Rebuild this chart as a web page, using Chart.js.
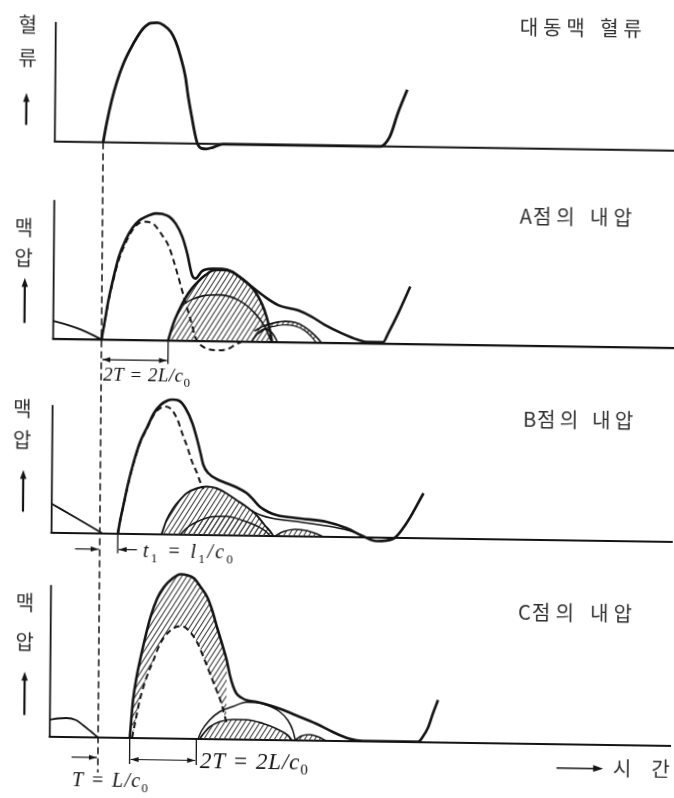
<!DOCTYPE html>
<html lang="ko">
<head>
<meta charset="utf-8">
<title>대동맥 혈류와 각 점의 내압</title>
<script src="https://cdn.jsdelivr.net/npm/chart.js@4.4.1/dist/chart.umd.min.js"></script>
<style>
  html, body { margin: 0; padding: 0; background: #fff; overflow: hidden; }
  #sheet {
    position: absolute; left: 0; top: 0; width: 674px; height: 798px;
    transform-origin: 0 0;
    /* the printed page sits slightly askew */
    transform: matrix(1, 0.0147, -0.0085, 1, 3.39, -4.95);
  }
  canvas { display: block; }
</style>
</head>
<body>
<div id="sheet"><canvas id="chart" width="674" height="798"></canvas></div>
<script>
// ---- time axis: ms after the start of ejection at the aortic root ----
// ---- values: arbitrary units above each trace's own zero line ----

// aortic flow
const flowAorta = [[0,0],[10,19],[25,42.5],[40,61],[59,79],[80,94],[100,106],[119,115],[140,120],[160,120.5],[179,118],[200,111.5],[215,102],[230,87],[245,67],[254,47],[265,27],[275,10],[283,0],[295,-4.5],[310,-5],[329,-3.5],[359,0],[830,0],[860,10],[884,34],[911,57]];

// pressure at A
const prevA = [[-145,18],[-100,14],[-60,9.5],[-20,3.5],[0,0]];
const pressA = [[0,0],[10,19.5],[20,39.5],[35,63],[50,83],[70,100],[90,112],[110,119.5],[130,123.5],[160,127],[180,126.5],[200,124],[220,117],[240,104],[255,87.5],[270,66],[280,62.5],[300,70],[330,72.5],[360,72.5],[390,70],[420,63],[450,55],[490,45],[530,37],[590,32],[630,26],[670,18],[720,10],[770,3.5],[800,1.5],[845,1.5],[860,10.5],[890,31],[925,57.5]];
const fwdA = [[0,0],[10,19],[20,38.5],[35,61],[50,80],[70,97],[90,110],[110,117],[125,118.5],[150,117],[180,105],[200,94],[220,74],[240,51],[255,34],[270,17.5],[280,5],[287,0],[300,-4.5],[320,-8],[350,-9],[380,-7.5],[400,-3.5],[420,0]];
const reflA = [[200,0],[215,17],[230,29],[250,42.5],[270,52.5],[290,60],[310,66],[330,70.5],[350,71.5],[370,71.5],[390,69.5],[420,63],[445,56],[460,50],[480,38.5],[495,25],[505,12],[512,0]];
const reflA2 = [[242,36],[270,41.5],[300,45],[350,46.5],[410,41.5],[460,28.5],[490,15],[505,4],[510,0]];
const reflA3 = [[450,0],[470,9],[490,13],[510,10],[522,4],[528,0]];
const reflA4Outer = [[458,11],[490,16.5],[520,19.5],[550,21],[580,20],[610,15.5],[635,9],[650,4],[660,0]];
const reflA4Inner = [[470,8],[490,13],[520,16],[550,17.5],[580,16.5],[610,12],[630,6],[645,0]];

// pressure at B
const prevB = [[-145,29],[-70,15],[9,0]];
const pressB = [[54,0],[61,14],[69,27],[84,51],[99,71],[119,92.5],[140,107.5],[159,121],[179,129.5],[200,134],[215,135],[234,134],[254,126.5],[275,111.5],[290,95],[300,82],[309,70],[324,62],[350,56],[380,52],[410,48],[440,42.5],[460,36],[480,29],[505,24],[530,21],[600,18],[680,15],[740,9],[790,1],[830,-3.5],[880,-1],[920,15],[970,45]];
const fwdB = [[54,0],[61,13.5],[69,26.5],[84,50],[99,70],[119,91.5],[140,106.5],[159,119.5],[175,125.5],[189,128],[209,126],[230,115],[245,101],[260,88],[275,73],[290,62],[300,53],[310,46]];
const reflB = [[185,0],[200,14.5],[219,26],[239,34.5],[259,41.5],[289,46.5],[319,48.5],[349,47],[379,42],[409,35.5],[439,29],[469,21],[494,11],[515,3],[520,0]];
const reflB2 = [[240,0],[265,8],[290,13],[330,18],[380,19],[430,15],[470,10],[500,4],[510,0]];
const reflB3 = [[525,0],[550,4.5],[585,7],[620,6],[650,3],[670,0]];
const innerB = [[455,25],[480,21],[520,17.5],[600,14.5],[700,10],[760,5.5],[795,1]];

// pressure at C
const prevC = [[-145,17],[-120,18.5],[-95,19],[-66,17],[-46,12.3],[-21,5.7],[0,0]];
const pressC = [[95,0],[99,18],[104,38],[114,61],[124,78],[139,101],[154,121],[174,140],[194,151.5],[219,160],[244,164.5],[264,163.5],[284,160.5],[304,152],[324,142],[339,129],[354,112],[369,96],[384,79],[394,64],[404,53],[414,46],[429,42],[444,39.5],[474,38],[494,36.5],[544,31.5],[594,25],[654,17],[704,9],[754,2.5],[794,0.5],[960,0.5],[974,5.5],[990,15],[1004,29],[1019,42.5]];
const fwdC = [[102,0],[114,21],[124,38],[144,61],[164,78],[184,95],[209,106.5],[234,112],[249,112.5],[269,108.5],[294,97],[314,82],[334,65.5],[354,49],[369,36],[379,24],[386,16]];
const reflC = [[300,0],[310,8],[334,19],[364,27.5],[404,33],[444,37.5],[480,37],[504,35],[544,28.5],[569,20],[584,10],[592,0]];
const reflC2 = [[305,0],[320,7],[334,12],[364,17.5],[404,20],[444,20],[494,16.5],[534,11.5],[569,5],[582,0]];
const reflC3 = [[590,0],[610,4.5],[634,6],[660,4],[685,0]];

// wave travel times (ms)
const T = 100, T2 = 200, t1 = 54;

// labels
const panelTitles = ['대동맥 혈류', 'A점의 내압', 'B점의 내압', 'C점의 내압'];
const sideNames = [['혈', '류'], ['맥', '압'], ['맥', '압'], ['맥', '압']];
const timeName = '시 간';

// ---------------------------------------------------------------
const INK = '#141414';
const TEXT = '#2e2e2e';
const KR = '"Noto Sans CJK KR", "Noto Sans", sans-serif';
const SERIF = '"Liberation Serif", "DejaVu Serif", serif';

const canvas = document.getElementById('chart');
const ctx0 = canvas.getContext('2d');

function makeHatch() {
  const w = 5, h = 8;
  const c = document.createElement('canvas');
  c.width = w; c.height = h;
  const g = c.getContext('2d');
  g.strokeStyle = '#3c3c3c';
  g.lineWidth = 1.05;
  g.beginPath();
  for (const k of [-1, 0, 1]) {
    g.moveTo(k * w - 1, h + h / w);
    g.lineTo(k * w + w + 1, -h / w);
  }
  g.stroke();
  return ctx0.createPattern(c, 'repeat');
}
const hatch = makeHatch();

const datasets = [];
function add(data, axis, opts) {
  datasets.push(Object.assign({
    data: data.map(([x, y]) => ({ x, y })),
    yAxisID: axis,
    borderColor: INK,
    borderWidth: 2.4,
    pointRadius: 0,
    fill: false,
    cubicInterpolationMode: 'monotone',
    order: 1
  }, opts));
  return datasets.length - 1;
}

// flow
add(flowAorta, 'yQ', { borderWidth: 2.8 });

// A
add(prevA, 'yA', { borderWidth: 2 });
add(reflA, 'yA', { fill: 'origin', backgroundColor: hatch, borderWidth: 2.6, order: 9 });
add(reflA2, 'yA', { borderWidth: 1.6, order: 8 });
add(reflA3, 'yA', { borderWidth: 1.6, order: 8 });
const aInner = add(reflA4Inner, 'yA', { borderWidth: 1.3, order: 8 });
add(reflA4Outer, 'yA', { fill: { target: aInner }, backgroundColor: hatch, borderWidth: 1.6, order: 8 });
add(fwdA, 'yA', { borderWidth: 2, borderDash: [6, 4], order: 5 });
add(pressA, 'yA', { borderWidth: 2.6 });

// B
add(prevB, 'yB', { borderWidth: 1.8 });
add(reflB, 'yB', { fill: 'origin', backgroundColor: hatch, borderWidth: 1.9, order: 9 });
add(reflB2, 'yB', { fill: 'origin', backgroundColor: hatch, borderWidth: 1.5, order: 8 });
add(reflB3, 'yB', { fill: 'origin', backgroundColor: hatch, borderWidth: 1.4, order: 8 });
add(innerB, 'yB', { borderWidth: 1.5, order: 7 });
add(fwdB, 'yB', { borderWidth: 2, borderDash: [6, 4], order: 5 });
add(pressB, 'yB', { borderWidth: 2.6 });

// C
add(prevC, 'yC', { borderWidth: 1.8 });
const cFwd = add(fwdC, 'yC', { borderWidth: 2, borderDash: [6, 4], order: 5 });
add(pressC.filter(([t]) => t <= 384), 'yC', { fill: { target: cFwd }, backgroundColor: hatch, borderWidth: 0, order: 9 });
add(reflC2, 'yC', { fill: 'origin', backgroundColor: hatch, borderWidth: 1.7, order: 8 });
add(reflC3, 'yC', { fill: 'origin', backgroundColor: hatch, borderWidth: 1.4, order: 8 });
add(reflC, 'yC', { borderWidth: 1.5, order: 7 });
add(pressC, 'yC', { borderWidth: 2.6 });

// ---- page layout: one unit of value = one pixel, each trace on its own zero line ----
const HEIGHT = 798;
const zeroLines = { yQ: 145.8, yA: 343.1, yB: 537, yC: 741 };
function yScale(id) {
  return { type: 'linear', position: 'left', display: false, min: zeroLines[id] - HEIGHT, max: zeroLines[id] };
}

const PANELS = [
  { axis: 'yQ', top: 119.7, titleT: 1247, titleH: 121,   titleW: 122, sideH: [116.3, 83],   sideDx: -27.9, arrowH: [48.3, 16.3], arrowDx: -28.8 },
  { axis: 'yA', top: 138.9, titleT: 1252, titleH: 130,   titleW: 112, sideH: [111, 80.5],   sideDx: -30.2, arrowH: [60.5, 15.5], arrowDx: -28.8 },
  { axis: 'yB', top: 127.8, titleT: 1267, titleH: 120.5, titleW: 110, sideH: [123.4, 92.4], sideDx: -30.1, arrowH: [62.4, 20.7], arrowDx: -28.7 },
  { axis: 'yC', top: 151.8, titleT: 1257, titleH: 131.2, titleW: 114, sideH: [133.1, 94.7], sideDx: -26,   arrowH: [64.7, 21.4], arrowDx: -25.6 }
];

// text made of glyph runs, spread to a given width
function glyphs(parts) {
  const out = [];
  for (const [str, size, sub, font] of parts) {
    for (const ch of str) out.push({ ch, font: font.replace('SIZE', size + 'px'), dy: sub ? size * 0.5 : 0 });
  }
  return out;
}
function drawSpread(ctx, list, x, y, width) {
  let sum = 0;
  const ws = list.map(g => { ctx.font = g.font; const w = ctx.measureText(g.ch).width; sum += w; return w; });
  // a Latin letter keeps close to the Hangul that follows it
  const weights = list.slice(0, -1).map((g, i) => (/[A-Za-z]/.test(g.ch) && /[\uAC00-\uD7A3]/.test(list[i + 1].ch)) ? 0.2 : 1);
  const wsum = weights.reduce((a, b) => a + b, 0) || 1;
  const unit = Math.max(0, (width - sum) / wsum);
  let cx = x;
  list.forEach((g, i) => {
    ctx.font = g.font;
    ctx.fillText(g.ch, cx, y + g.dy);
    cx += ws[i] + (i < weights.length ? unit * weights[i] : 0);
  });
}
function math(runs, size) {
  const sub = Math.round(size * 0.66);
  return glyphs(runs.map(([s, isSub]) => [s, isSub ? sub : size, isSub, isSub ? 'SIZE ' + SERIF : 'italic SIZE ' + SERIF]));
}

function head(ctx, x, y, dx, dy, len, half) {
  const bx = x - dx * len, by = y - dy * len;
  ctx.beginPath();
  ctx.moveTo(x, y);
  ctx.lineTo(bx - dy * half, by + dx * half);
  ctx.lineTo(bx + dy * half, by - dx * half);
  ctx.closePath();
  ctx.fill();
}
function hLine(ctx, x1, x2, y, w) {
  ctx.lineWidth = w;
  ctx.beginPath(); ctx.moveTo(x1, y); ctx.lineTo(x2, y); ctx.stroke();
}
function vLine(ctx, x, y1, y2, w) {
  ctx.lineWidth = w;
  ctx.beginPath(); ctx.moveTo(x, y1); ctx.lineTo(x, y2); ctx.stroke();
}

const frame = {
  id: 'frame',
  beforeDatasetsDraw(chart) {
    const { ctx } = chart;
    const x = chart.scales.x;
    ctx.save();
    ctx.strokeStyle = INK;
    PANELS.forEach(p => {
      const ys = chart.scales[p.axis];
      const x0 = x.getPixelForValue(x.min);
      const yb = ys.getPixelForValue(0);
      vLine(ctx, x0, ys.getPixelForValue(p.top), yb, 1.8);
      hLine(ctx, x0 - 1, x.getPixelForValue(x.max) + 12, yb, 2.1);
    });
    ctx.restore();
  },
  afterDraw(chart) {
    const { ctx } = chart;
    const x = chart.scales.x;
    const X = v => x.getPixelForValue(v);
    const Y = (id, v) => chart.scales[id].getPixelForValue(v);
    const x0 = X(x.min);
    ctx.save();
    ctx.strokeStyle = INK;
    ctx.fillStyle = INK;

    // start of ejection, carried down through every trace
    ctx.setLineDash([7, 4]);
    vLine(ctx, X(0), Y('yQ', 0), Y('yC', -35), 1.5);
    ctx.setLineDash([]);

    // trace titles and side names
    ctx.textBaseline = 'middle';
    PANELS.forEach((p, i) => {
      ctx.fillStyle = TEXT;
      drawSpread(ctx, glyphs([[panelTitles[i], 20, false, '400 SIZE ' + KR]]), X(p.titleT), Y(p.axis, p.titleH), p.titleW);
      ctx.textAlign = 'center';
      ctx.font = '400 20px ' + KR;
      sideNames[i].forEach((s, k) => ctx.fillText(s, x0 + p.sideDx, Y(p.axis, p.sideH[k])));
      ctx.textAlign = 'left';
      ctx.fillStyle = INK;
      const ax = x0 + p.arrowDx, yTop = Y(p.axis, p.arrowH[0]), yBot = Y(p.axis, p.arrowH[1]);
      vLine(ctx, ax, yTop + 6, yBot, 2.2);
      head(ctx, ax, yTop, 0, -1, 9, 3.2);
    });

    // A: 2T = 2L/c0
    {
      const yb = Y('yA', -20);
      vLine(ctx, X(T2), Y('yA', 0), Y('yA', -23.5), 1.3);
      hLine(ctx, X(0) + 1, X(T2) - 1, yb, 1.2);
      head(ctx, X(0) + 1, yb, -1, 0, 8, 2.6);
      head(ctx, X(T2) - 1, yb, 1, 0, 8, 2.6);
      drawSpread(ctx, math([['2T = 2L/c', false], ['0', true]], 19), X(6), Y('yA', -36.3), 87);
    }

    // B: t1 = l1/c0
    {
      const yb = Y('yB', -15.7);
      vLine(ctx, X(t1), Y('yB', 0), Y('yB', -19.5), 1.3);
      hLine(ctx, X(-74), X(0) - 1, yb, 1.2);
      head(ctx, X(0) - 1, yb, 1, 0, 8, 2.6);
      hLine(ctx, X(t1) + 1, X(112), yb, 1.2);
      head(ctx, X(t1) + 1, yb, -1, 0, 8, 2.6);
      drawSpread(ctx, math([['t', false], ['1', true], [' = l', false], ['1', true], ['/c', false], ['0', true]], 20), X(130), Y('yB', -18), 90);
    }

    // C: T = L/c0 and 2T = 2L/c0
    {
      const yA1 = Y('yC', -20);
      hLine(ctx, X(-79), X(0) - 1, yA1, 1.2);
      head(ctx, X(0) - 1, yA1, 1, 0, 8, 2.6);
      vLine(ctx, X(T - 5), Y('yC', 0), Y('yC', -26), 1.3);
      vLine(ctx, X(T - 5 + T2), Y('yC', 0), Y('yC', -26), 1.3);
      const yA2 = Y('yC', -21.5);
      hLine(ctx, X(T - 5) + 1, X(T - 5 + T2) - 1, yA2, 1.2);
      head(ctx, X(T - 5) + 1, yA2, -1, 0, 8, 2.6);
      head(ctx, X(T - 5 + T2) - 1, yA2, 1, 0, 8, 2.6);
      drawSpread(ctx, math([['2T = 2L/c', false], ['0', true]], 23), X(306), Y('yC', -23), 108);
      drawSpread(ctx, math([['T = L/c', false], ['0', true]], 20), X(-77), Y('yC', -44), 76);
    }

    // time direction
    {
      const yb = Y('yC', -23.7);
      hLine(ctx, X(1376), X(1508), yb, 1.6);
      head(ctx, X(1516), yb, 1, 0, 10, 3.4);
      ctx.fillStyle = TEXT;
      drawSpread(ctx, glyphs([[timeName, 20, false, '400 SIZE ' + KR]]), X(1545), yb, 57);
    }
    ctx.restore();
  }
};

Chart.defaults.animation = false;
new Chart(canvas, {
  type: 'line',
  data: { datasets },
  options: {
    responsive: false,
    animation: false,
    events: [],
    layout: { padding: { left: 52.667, right: 0, top: 0, bottom: 0 } },
    scales: {
      x: { type: 'linear', display: false, min: -145, max: 1719 },
      yQ: yScale('yQ'),
      yA: yScale('yA'),
      yB: yScale('yB'),
      yC: yScale('yC')
    },
    plugins: { legend: { display: false }, tooltip: { enabled: false } }
  },
  plugins: [frame]
});
</script>
</body>
</html>
